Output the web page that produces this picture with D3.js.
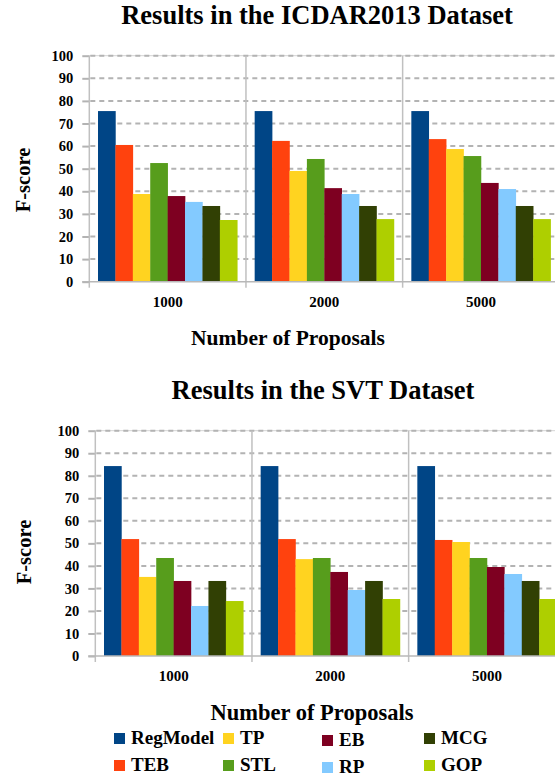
<!DOCTYPE html>
<html>
<head>
<meta charset="utf-8">
<script src="https://cdn.jsdelivr.net/npm/d3@7"></script>
<style>
  body { margin: 0; background: #fff; }
  svg { display: block; }
  text { font-family: "Liberation Serif", "Tinos", "Times New Roman", "DejaVu Serif", serif; font-weight: bold; fill: #000; }
</style>
</head>
<body>
<svg id="chart" width="555" height="778"></svg>
<script>
// Categories and series
const methods = ["RegModel", "TEB", "TP", "STL", "EB", "RP", "MCG", "GOP"];
const proposals = ["1000", "2000", "5000"];
const yTicks = [0, 10, 20, 30, 40, 50, 60, 70, 80, 90, 100];
const methodColors = ["#004586", "#ff420e", "#ffd320", "#579d1c", "#7e0021", "#83caff", "#314004", "#aecf00"];

// F-score per method, one array per number of proposals (ICDAR2013)
const icdar1000 = [75.5, 60.5, 38.8, 52.5, 37.9, 35.3, 33.5, 27.3];
const icdar2000 = [75.5, 62.3, 49.0, 54.3, 41.4, 38.8, 33.5, 27.7];
const icdar5000 = [75.5, 63.1, 58.7, 55.6, 43.7, 41.0, 33.5, 27.7];

// SVT
const svt1000 = [84.3, 51.9, 35.1, 43.5, 33.3, 22.2, 33.3, 24.4];
const svt2000 = [84.3, 51.9, 43.0, 43.5, 37.3, 29.3, 33.3, 25.3];
const svt5000 = [84.3, 51.5, 50.6, 43.5, 39.5, 36.4, 33.3, 25.3];

const svg = d3.select("#chart");
const color = d3.scaleOrdinal().domain(methods).range(methodColors);
const serif = "'Liberation Serif', 'Tinos', 'Times New Roman', 'DejaVu Serif', serif";

function drawPanel(opts) {
    const g = svg.append("g").attr("transform", `translate(${opts.left}, ${opts.top})`);
    const w = opts.width, h = opts.height;

    const rows = proposals.map((p, i) => ({ key: p, values: opts.series[i] }));

    const x0 = d3.scaleBand().domain(proposals).range([0, w]).padding(0);
    const x1 = d3.scaleBand().domain(methods).range([0, x0.bandwidth()])
        .paddingInner(0).paddingOuter(0.5);
    const y = d3.scaleLinear().domain([0, 100]).range([h, 0]);

    // title
    svg.append("text")
        .attr("x", opts.titleX).attr("y", opts.titleY)
        .attr("text-anchor", "middle")
        .style("font-size", "26.5px")
        .text(opts.title);

    // top border line
    g.append("line")
        .attr("x1", 0).attr("x2", w + 10)
        .attr("y1", y(100)).attr("y2", y(100))
        .attr("stroke", "#d4d4d4").attr("stroke-width", 1);

    // dashed gridlines
    g.selectAll(".grid").data(yTicks.filter(d => d > 0)).enter().append("line")
        .attr("class", "grid")
        .attr("x1", 1).attr("x2", w + 10)
        .attr("y1", d => y(d)).attr("y2", d => y(d))
        .attr("stroke", "#b3b3b3").attr("stroke-width", 2)
        .attr("stroke-dasharray", "5,4");

    // group separators
    g.selectAll(".sep").data(proposals.slice(1)).enter().append("line")
        .attr("class", "sep")
        .attr("x1", d => x0(d)).attr("x2", d => x0(d))
        .attr("y1", 0).attr("y2", h + 6)
        .attr("stroke", "#c0c0c0").attr("stroke-width", 1.5);

    // bars
    const groups = g.selectAll(".group").data(rows).enter().append("g")
        .attr("class", "group")
        .attr("transform", d => `translate(${x0(d.key)}, 0)`);

    groups.selectAll("rect")
        .data(d => d.values.map((v, i) => ({ m: methods[i], v: v })))
        .enter().append("rect")
        .attr("x", d => x1(d.m))
        .attr("y", d => y(d.v))
        .attr("width", x1.bandwidth() + 0.3)
        .attr("height", d => y(0) - y(d.v))
        .attr("fill", d => color(d.m));

    // y axis
    const yAxis = d3.axisLeft(y).tickValues(yTicks).tickSize(7).tickPadding(9);
    const ya = g.append("g").call(yAxis).attr("font-family", serif);
    ya.select(".domain").remove();
    ya.selectAll(".tick line").attr("stroke", "#b3b3b3").attr("stroke-width", 2);
    ya.selectAll(".tick text").style("font-size", "14.5px").attr("fill", "#000");

    // left axis line + x axis line
    g.append("line").attr("x1", 0).attr("x2", 0).attr("y1", 0).attr("y2", h + 6)
        .attr("stroke", "#c0c0c0").attr("stroke-width", 1.5);
    g.append("line").attr("x1", -7).attr("x2", w + 10).attr("y1", h).attr("y2", h)
        .attr("stroke", "#b8b8b8").attr("stroke-width", 1.5);

    // category labels
    g.selectAll(".cat").data(proposals).enter().append("text")
        .attr("class", "cat")
        .attr("x", d => x0(d) + x0.bandwidth() / 2)
        .attr("y", h + opts.catDy)
        .attr("text-anchor", "middle")
        .style("font-size", "15px")
        .text(d => d);

    // axis titles
    svg.append("text")
        .attr("x", opts.xTitleX).attr("y", opts.xTitleY)
        .attr("text-anchor", "middle")
        .style("font-size", opts.xTitleSize)
        .text("Number of Proposals");

    svg.append("text")
        .attr("transform", `translate(${opts.yTitleX}, ${opts.yTitleY}) rotate(-90)`)
        .attr("text-anchor", "middle")
        .style("font-size", "20.5px")
        .text("F-score");
}

drawPanel({
    title: "Results in the ICDAR2013 Dataset", titleX: 317, titleY: 24,
    left: 89.3, top: 55.7, width: 470, height: 226,
    series: [icdar1000, icdar2000, icdar5000],
    catDy: 25, xTitleX: 288, xTitleY: 345, xTitleSize: "21.5px",
    yTitleX: 30, yTitleY: 180
});

drawPanel({
    title: "Results in the SVT Dataset", titleX: 323, titleY: 399,
    left: 95.3, top: 430.7, width: 470, height: 225.3,
    series: [svt1000, svt2000, svt5000],
    catDy: 25, xTitleX: 312, xTitleY: 720, xTitleSize: "22.5px",
    yTitleX: 31, yTitleY: 552
});

// legend: two rows, column-major order
const legendCols = [114, 223, 322, 424];
const legend = svg.append("g").selectAll("g").data(methods).enter().append("g")
    .attr("transform", (d, i) => {
        const col = Math.floor(i / 2), row = i % 2;
        const dy = col === 2 ? 2 : 0;
        return `translate(${legendCols[col]}, ${733 + row * 27 + dy})`;
    });
legend.append("rect").attr("width", 11).attr("height", 11).attr("fill", d => color(d));
legend.append("text").attr("x", 17).attr("y", 10.5)
    .style("font-size", "19px").text(d => d);
</script>
</body>
</html>
